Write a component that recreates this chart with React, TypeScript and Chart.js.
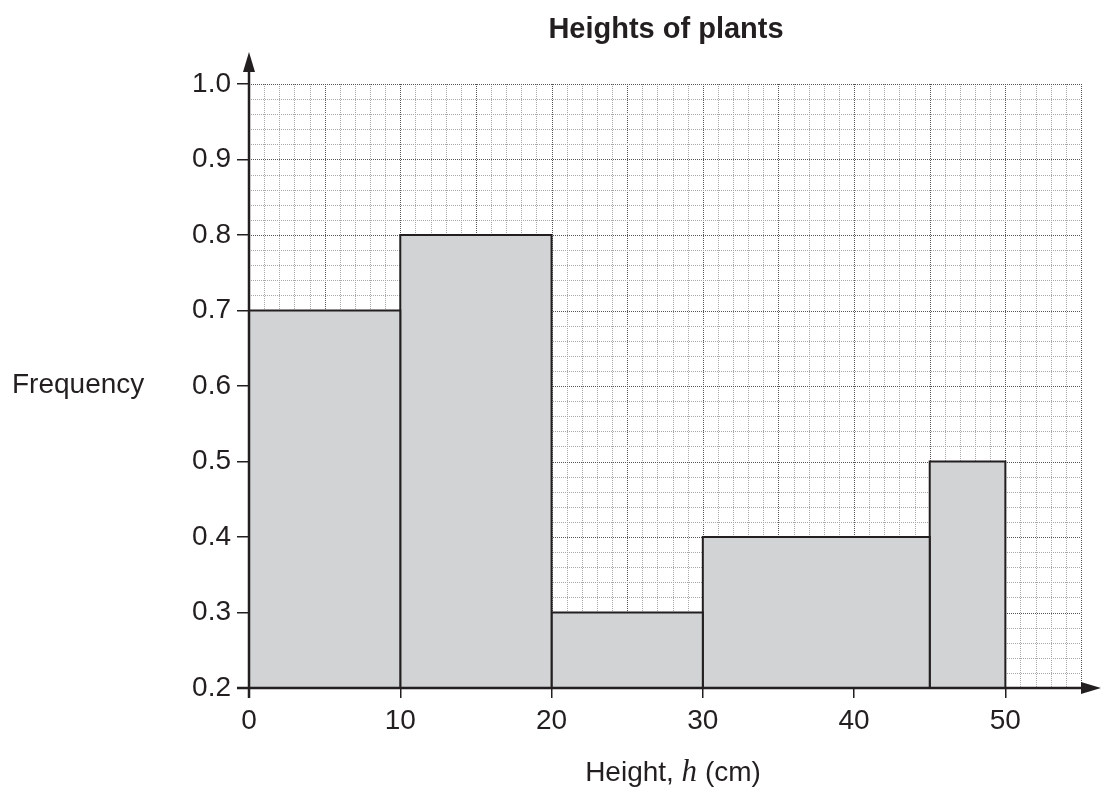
import React, { useEffect, useRef } from "react";
import { Chart, registerables } from "chart.js";

Chart.register(...registerables);

const binEdges = [0, 10, 20, 30, 45, 50];
const frequencies = [0.7, 0.8, 0.3, 0.4, 0.5];
const xTickValues = [0, 10, 20, 30, 40, 50];
const yTickValues = [0.2, 0.3, 0.4, 0.5, 0.6, 0.7, 0.8, 0.9, 1.0];
const X_MIN = 0;
const X_MAX = 55;
const Y_MIN = 0.2;
const Y_MAX = 1.0;
const TITLE = "Heights of plants";
const Y_TITLE = "Frequency";

const INK = "#231f20";
const SANS = "'Liberation Sans', Arial, sans-serif";
const SERIF = "'Liberation Serif', 'Times New Roman', serif";

const decorPlugin = {
  id: "decor",
  beforeDatasetsDraw(chart: any) {
    const { ctx, chartArea, scales } = chart;
    const xs = scales.x;
    const ys = scales.y;
    ctx.save();
    ctx.lineWidth = 1;
    for (let v = X_MIN + 1; v <= X_MAX; v += 1) {
      const px = Math.round(xs.getPixelForValue(v)) + 0.5;
      const major = v % 5 === 0;
      ctx.strokeStyle = major ? "#555" : "#a8a8a8";
      ctx.setLineDash([1, 1]);
      ctx.beginPath();
      ctx.moveTo(px, chartArea.top);
      ctx.lineTo(px, chartArea.bottom);
      ctx.stroke();
    }
    const steps = Math.round((Y_MAX - Y_MIN) / 0.02);
    for (let i = 1; i <= steps; i++) {
      const v = Y_MIN + i * 0.02;
      const py = Math.round(ys.getPixelForValue(v)) + 0.5;
      const major = i % 5 === 0;
      ctx.strokeStyle = major ? "#555" : "#a8a8a8";
      ctx.setLineDash([1, 1]);
      ctx.beginPath();
      ctx.moveTo(chartArea.left, py);
      ctx.lineTo(chartArea.right, py);
      ctx.stroke();
    }
    ctx.restore();
  },
  afterDatasetsDraw(chart: any) {
    const { ctx, chartArea, scales, width } = chart;
    const xs = scales.x;
    const ys = scales.y;
    const x0 = xs.getPixelForValue(X_MIN);
    const y0 = ys.getPixelForValue(Y_MIN);
    ctx.save();
    ctx.setLineDash([]);
    ctx.strokeStyle = INK;
    ctx.fillStyle = INK;
    ctx.lineWidth = 2.5;
    ctx.beginPath();
    ctx.moveTo(x0, y0 + 10);
    ctx.lineTo(x0, chartArea.top - 18);
    ctx.stroke();
    ctx.beginPath();
    ctx.moveTo(x0 - 12, y0);
    ctx.lineTo(width - 14, y0);
    ctx.stroke();
    ctx.beginPath();
    ctx.moveTo(x0, chartArea.top - 32);
    ctx.lineTo(x0 - 6, chartArea.top - 12);
    ctx.lineTo(x0 + 6, chartArea.top - 12);
    ctx.closePath();
    ctx.fill();
    ctx.beginPath();
    ctx.moveTo(width, y0);
    ctx.lineTo(width - 20, y0 - 6);
    ctx.lineTo(width - 20, y0 + 6);
    ctx.closePath();
    ctx.fill();

    ctx.fillStyle = INK;
    ctx.textBaseline = "middle";
    ctx.textAlign = "center";
    ctx.font = `bold 29px ${SANS}`;
    ctx.fillText(TITLE, 666, 30);

    ctx.textAlign = "left";
    ctx.font = `28px ${SANS}`;
    ctx.fillText(Y_TITLE, 12, 385);

    const p1 = "Height, ";
    const p2 = "h";
    const p3 = " (cm)";
    const sansFont = `28px ${SANS}`;
    const italFont = `italic 31px ${SERIF}`;
    ctx.font = sansFont;
    const w1 = ctx.measureText(p1).width;
    const w3 = ctx.measureText(p3).width;
    ctx.font = italFont;
    const w2 = ctx.measureText(p2).width;
    const total = w1 + w2 + w3;
    let sx = 673 - total / 2;
    const ty = 773;
    ctx.font = sansFont;
    ctx.fillText(p1, sx, ty);
    sx += w1;
    ctx.font = italFont;
    ctx.fillText(p2, sx, ty);
    sx += w2;
    ctx.font = sansFont;
    ctx.fillText(p3, sx, ty);
    ctx.restore();
  },
};

export default function App() {
  const ref = useRef<HTMLCanvasElement | null>(null);
  useEffect(() => {
    if (!ref.current) return;
    const datasets = frequencies.map((f, i) => ({
      data: [
        { x: binEdges[i], y: Y_MIN },
        { x: binEdges[i], y: f },
        { x: binEdges[i + 1], y: f },
        { x: binEdges[i + 1], y: Y_MIN },
      ],
      borderColor: INK,
      borderWidth: 2,
      backgroundColor: "#d1d3d4",
      fill: "start",
      pointRadius: 0,
      tension: 0,
    }));
    const chart = new Chart(ref.current, {
      type: "line",
      data: { datasets },
      options: {
        animation: false,
        responsive: false,
        devicePixelRatio: 1,
        layout: { padding: { left: 0, right: 20, top: 84, bottom: 0 } },
        plugins: {
          legend: { display: false },
          tooltip: { enabled: false },
          title: { display: false },
        },
        scales: {
          x: {
            type: "linear",
            min: X_MIN,
            max: X_MAX,
            afterBuildTicks: (s: any) => {
              s.ticks = xTickValues.map((v) => ({ value: v }));
            },
            afterFit: (s: any) => {
              s.height = 103;
            },
            border: { display: false },
            grid: {
              drawOnChartArea: false,
              drawTicks: true,
              tickLength: 10,
              color: INK,
              lineWidth: 1.5,
            },
            ticks: {
              color: INK,
              padding: 6,
              font: { family: SANS, size: 28 },
              maxRotation: 0,
              autoSkip: false,
            },
          },
          y: {
            type: "linear",
            min: Y_MIN,
            max: Y_MAX,
            afterBuildTicks: (s: any) => {
              s.ticks = yTickValues.map((v) => ({ value: v }));
            },
            afterFit: (s: any) => {
              s.width = 249;
            },
            border: { display: false },
            grid: {
              drawOnChartArea: false,
              drawTicks: true,
              tickLength: 12,
              color: INK,
              lineWidth: 1.5,
            },
            ticks: {
              color: INK,
              padding: 6,
              font: { family: SANS, size: 28 },
              callback: (v: any) => Number(v).toFixed(1),
              autoSkip: false,
            },
          },
        },
      } as any,
      plugins: [decorPlugin],
    });
    return () => chart.destroy();
  }, []);
  return (
    <div style={{ position: "fixed", left: 0, top: 0, width: 1101, height: 791, background: "#fff" }}>
      <canvas ref={ref} width={1101} height={791} style={{ width: 1101, height: 791, display: "block" }} />
    </div>
  );
}
